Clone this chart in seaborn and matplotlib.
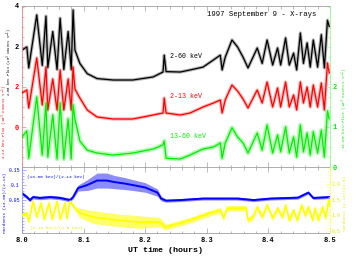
import numpy as np
import pandas as pd
import matplotlib
matplotlib.use('Agg')
import matplotlib.pyplot as plt
import seaborn as sns
from matplotlib.ticker import MultipleLocator, FormatStrFormatter

# --- flux curves (10^3 counts/s) ---
t_flux = [8.000, 8.008, 8.011, 8.024, 8.033, 8.039, 8.042, 8.050, 8.057, 8.062,
          8.068, 8.075, 8.080, 8.083, 8.086, 8.094, 8.106, 8.122, 8.148, 8.180,
          8.213, 8.229, 8.231, 8.234, 8.257, 8.273, 8.294, 8.311, 8.322, 8.325,
          8.330, 8.341, 8.350, 8.359, 8.367, 8.382, 8.390, 8.398, 8.407, 8.415,
          8.420, 8.428, 8.434, 8.441, 8.446, 8.452, 8.457, 8.463, 8.468, 8.473,
          8.480, 8.486, 8.491, 8.496, 8.499]
flux_2_60 = [1.85, 2.0, 0.98, 3.56, 1.1, 3.5, 1.0, 2.75, 0.9, 3.4,
             0.9, 2.75, 0.9, 3.8, 1.85, 1.2, 0.7, 0.46, 0.39, 0.39,
             0.54, 0.78, 1.6, 0.8, 0.78, 0.88, 1.02, 1.37, 1.6, 0.88,
             1.5, 2.34, 2.0, 1.5, 0.98, 1.95, 1.2, 2.34, 1.12, 1.95,
             1.12, 2.44, 1.12, 1.7, 0.88, 2.68, 1.2, 2.2, 1.02, 2.34,
             1.02, 2.6, 0.98, 3.3, 2.98]
flux_2_13 = [1.7, 1.85, 0.95, 3.45, 1.1, 3.0, 0.85, 2.4, 0.85, 2.85,
             0.85, 2.4, 0.85, 3.0, 1.9, 1.45, 0.85, 0.5, 0.4, 0.4,
             0.6, 0.7, 1.45, 0.7, 0.6, 0.7, 1.0, 1.2, 1.35, 0.7,
             1.35, 2.1, 1.8, 1.4, 0.95, 1.85, 1.2, 2.25, 1.0, 1.95,
             1.0, 2.25, 1.0, 1.6, 0.85, 2.25, 1.2, 2.0, 1.0, 2.1,
             1.0, 2.2, 0.85, 3.2, 2.7]
flux_13_60 = [0.75, 0.9, 0.22, 1.75, 0.3, 1.6, 0.25, 1.3, 0.2, 1.6,
              0.2, 1.2, 0.2, 1.55, 1.2, 0.65, 0.42, 0.35, 0.3, 0.35,
              0.45, 0.55, 0.65, 0.22, 0.2, 0.3, 0.45, 0.5, 0.6, 0.22,
              0.6, 0.98, 0.75, 0.6, 0.35, 0.85, 0.42, 1.05, 0.35, 0.8,
              0.38, 1.0, 0.35, 0.75, 0.25, 1.05, 0.38, 0.85, 0.3, 0.88,
              0.35, 0.92, 0.25, 1.4, 1.2]

# --- hardness ratios ---
t_hr1 = [8.000, 8.008, 8.013, 8.018, 8.029, 8.046, 8.062, 8.078, 8.083, 8.091,
         8.106, 8.122, 8.138, 8.150, 8.167, 8.180, 8.200, 8.220, 8.226, 8.234,
         8.257, 8.294, 8.350, 8.376, 8.404, 8.448, 8.465, 8.473, 8.500]
hr_13_60 = [0.073, 0.06, 0.05, 0.06, 0.057, 0.06, 0.057, 0.05, 0.06, 0.09,
            0.1, 0.115, 0.115, 0.11, 0.105, 0.1, 0.092, 0.075, 0.055, 0.048,
            0.05, 0.055, 0.055, 0.05, 0.055, 0.058, 0.075, 0.057, 0.06]
hr1_spread = [0.006] * 9 + [0.01, 0.018, 0.025, 0.025, 0.022, 0.02, 0.018, 0.016, 0.012, 0.008] + [0.005] * 10

t_hr2 = [8.000, 8.008, 8.011, 8.018, 8.024, 8.031, 8.036, 8.044, 8.049, 8.057,
         8.062, 8.070, 8.073, 8.078, 8.086, 8.094, 8.115, 8.154, 8.190, 8.224,
         8.233, 8.257, 8.273, 8.306, 8.322, 8.327, 8.333, 8.364, 8.367, 8.375,
         8.382, 8.390, 8.398, 8.407, 8.415, 8.423, 8.428, 8.434, 8.441, 8.447,
         8.454, 8.460, 8.465, 8.472, 8.476, 8.481, 8.488, 8.493, 8.498, 8.500]
hr_2_13 = [1.0, 1.08, 0.8, 1.45, 0.95, 1.4, 0.88, 1.4, 0.88, 1.45,
           0.88, 1.4, 0.9, 1.45, 1.23, 1.08, 0.95, 0.85, 0.79, 0.79,
           0.63, 0.76, 0.85, 1.08, 1.17, 0.92, 1.23, 1.23, 0.85, 0.95,
           1.27, 0.95, 1.33, 0.92, 1.23, 0.95, 1.33, 0.85, 1.17, 0.85,
           1.33, 1.0, 1.27, 0.85, 1.23, 0.85, 1.27, 0.92, 1.49, 1.3]
hr2_spread = [0.07] * 15 + [0.15, 0.2, 0.2, 0.2, 0.15] + [0.09] * 30

BLACK, RED, GREEN, BLUE, YELLOW = 'black', '#ff0000', '#00ee00', '#0000ff', '#ffff00'

sns.set_style('ticks')
plt.rcParams['font.family'] = ['Liberation Mono', 'DejaVu Sans Mono']
plt.rcParams['xtick.direction'] = 'in'
plt.rcParams['ytick.direction'] = 'in'

fig = plt.figure(figsize=(3.54, 2.57), dpi=100)
top_rect = [0.062, 0.350, 0.870, 0.627]
bot_rect = [0.062, 0.093, 0.870, 0.257]
ax_k = fig.add_axes(top_rect)
ax_r = fig.add_axes(top_rect, sharex=ax_k)
ax_g = fig.add_axes(top_rect, sharex=ax_k)
ax_b = fig.add_axes(bot_rect, sharex=ax_k)
ax_y = fig.add_axes(bot_rect, sharex=ax_k)

for ax in (ax_r, ax_g, ax_y):
    ax.patch.set_visible(False)

def curve(ax, t, v, color, lw, fuzz):
    sns.lineplot(x=t, y=v, ax=ax, color=color, lw=fuzz, alpha=0.3, estimator=None, sort=False)
    sns.lineplot(x=t, y=v, ax=ax, color=color, lw=lw, estimator=None, sort=False)

curve(ax_k, t_flux, flux_2_60, BLACK, 0.9, 2.4)
curve(ax_r, t_flux, flux_2_13, RED, 0.9, 2.4)
curve(ax_g, t_flux, flux_13_60, GREEN, 0.9, 3.2)

lo1 = np.array(hr_13_60) - np.array(hr1_spread)
hi1 = np.array(hr_13_60) + np.array(hr1_spread)
ax_b.fill_between(t_hr1, lo1, hi1, color=BLUE, alpha=0.45, lw=0)
sns.lineplot(x=t_hr1, y=hr_13_60, ax=ax_b, color=BLUE, lw=1.4, estimator=None, sort=False)
lo2 = np.array(hr_2_13) - np.array(hr2_spread)
hi2 = np.array(hr_2_13) + np.array(hr2_spread)
ax_y.fill_between(t_hr2, lo2, hi2, color=YELLOW, alpha=0.6, lw=0)
sns.lineplot(x=t_hr2, y=hr_2_13, ax=ax_y, color=YELLOW, lw=1.2, estimator=None, sort=False)

ax_k.set_xlim(8.0, 8.5)
ax_k.set_ylim(-3.85, 4.0)
ax_r.set_ylim(-2.0, 6.05)
ax_g.set_ylim(0.0, 4.02)
ax_b.set_ylim(-0.06, 0.16)
ax_y.set_ylim(0.44, 2.54)

tick_font = dict(fontsize=5, fontweight='bold')

# black / red left axes
ax_k.set_yticks([2, 4])
ax_k.set_yticklabels(['2', '4'], **tick_font)
ax_k.tick_params(axis='y', colors='#ff8080', labelcolor=BLACK, length=3, width=0.5, pad=2)
ax_r.set_yticks([0, 2])
ax_r.set_yticklabels(['0', '2'], **tick_font)
ax_r.yaxis.set_minor_locator(MultipleLocator(0.5))
ax_r.tick_params(axis='y', which='both', colors='#ff8080', labelcolor=RED, width=0.5, pad=2)
ax_r.tick_params(axis='y', which='major', length=3)
ax_r.tick_params(axis='y', which='minor', length=1.5)

# green right axis
ax_g.yaxis.tick_right()
ax_g.set_yticks([0, 1, 2])
ax_g.set_yticklabels(['0', '1', '2'], **tick_font)
ax_g.yaxis.set_minor_locator(MultipleLocator(0.25))
ax_g.tick_params(axis='y', which='both', colors='#90ff90', labelcolor=GREEN, width=0.5, pad=2)
ax_g.tick_params(axis='y', which='major', length=3)
ax_g.tick_params(axis='y', which='minor', length=1.5)

# hardness axes
ax_b.set_yticks([0.05, 0.1, 0.15])
ax_b.set_yticklabels(['0.05', '0.1', '0.15'], fontsize=3.4)
ax_b.yaxis.set_minor_locator(MultipleLocator(0.01))
ax_b.tick_params(axis='y', which='both', colors='#9090ff', labelcolor=BLUE, width=0.5, pad=1.5)
ax_b.tick_params(axis='y', which='major', length=3)
ax_b.tick_params(axis='y', which='minor', length=1.5)
ax_y.yaxis.tick_right()
ax_y.set_yticks([0.5, 1.0, 1.5, 2.0])
ax_y.set_yticklabels(['0.5', '1.0', '1.5', '2.0'], fontsize=3.6)
ax_y.yaxis.set_minor_locator(MultipleLocator(0.1))
ax_y.tick_params(axis='y', which='both', colors='#ffff70', labelcolor='#e8e800', width=0.5, pad=1.5)
ax_y.tick_params(axis='y', which='major', length=3)
ax_y.tick_params(axis='y', which='minor', length=1.5)

# x axis
for ax in (ax_k, ax_b):
    ax.xaxis.set_major_locator(MultipleLocator(0.1))
    ax.xaxis.set_minor_locator(MultipleLocator(0.02))
    ax.tick_params(axis='x', which='both', top=True, bottom=True, colors='#a0a0a0', width=0.5)
    ax.tick_params(axis='x', which='major', length=3.5)
    ax.tick_params(axis='x', which='minor', length=1.8)
ax_k.tick_params(axis='x', labelbottom=False)
ax_b.xaxis.set_major_formatter(FormatStrFormatter('%.1f'))
ax_b.tick_params(axis='x', labelcolor=BLACK, labelsize=5, pad=3)
for lab in ax_b.get_xticklabels():
    lab.set_fontweight('bold')
for ax in (ax_r, ax_g, ax_y):
    ax.tick_params(axis='x', which='both', bottom=False, top=False, labelbottom=False)
ax_g.tick_params(axis='y', left=False, labelleft=False)
ax_y.tick_params(axis='y', left=False, labelleft=False)

# spines
for ax in (ax_r, ax_g, ax_y):
    for s in ax.spines.values():
        s.set_visible(False)
for ax in (ax_k, ax_b):
    for s in ax.spines.values():
        s.set_linewidth(0.6)
        s.set_color('#a0a0a0')
    ax.spines['right'].set_visible(False)
ax_k.spines['left'].set_color('#ff8080')
ax_b.spines['left'].set_color('#9090ff')
ax_g.spines['right'].set_visible(True)
ax_g.spines['right'].set_color('#90ff90')
ax_g.spines['right'].set_linewidth(0.6)
ax_y.spines['right'].set_visible(True)
ax_y.spines['right'].set_color('#ffff70')
ax_y.spines['right'].set_linewidth(0.6)

for ax in (ax_k, ax_r, ax_g, ax_b, ax_y):
    ax.set_xlabel('')
    ax.set_ylabel('')

# axis titles
lab_font = dict(rotation=90, va='center', ha='center')
fig.text(10 / 354, 1 - 62 / 257, '2-60 keV Flux (10$^3$ counts s$^{-1}$)', color=BLACK, fontsize=2.7, **lab_font)
fig.text(5 / 354, 1 - 122 / 257, '2-13 keV Flux (10$^3$ counts s$^{-1}$)', color=RED, fontsize=3.0, **lab_font)
fig.text(345 / 354, 1 - 108 / 257, '13-60 keV Flux (10$^3$ counts s$^{-1}$)', color=GREEN, fontsize=3.2, **lab_font)
fig.text(5 / 354, 1 - 203 / 257, 'Hardness (13-60)/(2-13)', color=BLUE, fontsize=3.2, **lab_font)
fig.text(345 / 354, 1 - 203 / 257, 'Hardness (2-13)/(2-5)', color='#e8e800', fontsize=3.2, **lab_font)

# in-plot labels
fig.text(207 / 354, 1 - 15 / 257, '1997 September 9 - X-rays', fontsize=5.2, va='center', color=BLACK)
fig.text(170 / 354, 1 - 57 / 257, '2-60 keV', fontsize=4.8, va='center', color=BLACK)
fig.text(170 / 354, 1 - 97 / 257, '2-13 keV', fontsize=4.8, va='center', color=RED)
fig.text(170 / 354, 1 - 137 / 257, '13-60 keV', fontsize=4.8, va='center', color=GREEN)
fig.text(27 / 354, 1 - 177 / 257, '(13-60 keV)/(2-13 keV)', fontsize=3.2, va='center', color=BLUE)
fig.text(30 / 354, 1 - 228 / 257, '(2-13 keV)/(2-5 keV)', fontsize=3.2, va='center', color='#e8e800')
fig.text(165 / 354, 1 - 250 / 257, 'UT time (hours)', fontsize=6, fontweight='bold', ha='center', va='center', color=BLACK)

fig.savefig('out.png', dpi=100)
